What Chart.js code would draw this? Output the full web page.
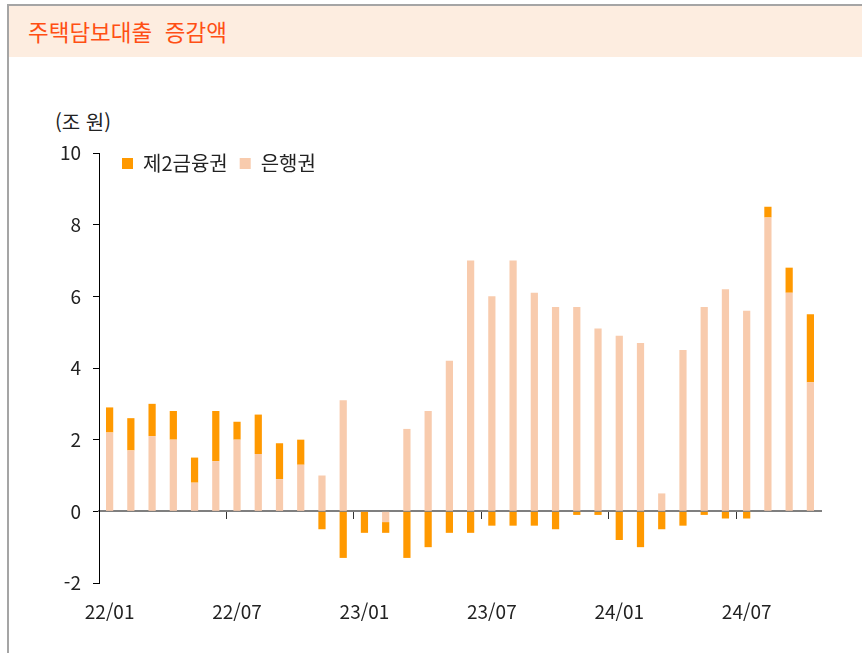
<!DOCTYPE html>
<html lang="ko">
<head>
<meta charset="utf-8">
<title>주택담보대출 증감액</title>
<script src="https://cdn.jsdelivr.net/npm/chart.js@4"></script>
<style>
  body { margin: 0; width: 862px; height: 653px; overflow: hidden; background: #fff;
         font-family: "Noto Sans CJK KR", sans-serif; }
  #frame { position: absolute; left: 7px; top: 4px; right: 0; bottom: 0;
           border-left: 2px solid #a5a5a5; border-top: 2px solid #a5a5a5; }
  #head { height: 51px; background: #fdede0; color: #ff4f14; font-size: 22.5px;
          line-height: 51px; padding-left: 19px; white-space: pre; }
  #unit { position: absolute; left: 55px; top: 109px; font-size: 20px; line-height: 26px; color: #222; }
  #wrap { position: absolute; left: 0; top: 0; width: 862px; height: 653px; }
</style>
</head>
<body>
<div id="frame"><div id="head">주택담보대출  증감액</div></div>
<div id="unit">(조 원)</div>
<div id="wrap"><canvas id="grafico"></canvas></div>
<script>
const meses = ['22/01','22/02','22/03','22/04','22/05','22/06','22/07','22/08','22/09','22/10','22/11','22/12',
               '23/01','23/02','23/03','23/04','23/05','23/06','23/07','23/08','23/09','23/10','23/11','23/12',
               '24/01','24/02','24/03','24/04','24/05','24/06','24/07','24/08','24/09','24/10']
// 은행권 (bottom of the stack)
const banco = [2.2, 1.7, 2.1, 2.0, 0.8, 1.4, 2.0, 1.6, 0.9, 1.3, 1.0, 3.1,
               0, -0.3, 2.3, 2.8, 4.2, 7.0, 6.0, 7.0, 6.1, 5.7, 5.7, 5.1,
               4.9, 4.7, 0.5, 4.5, 5.7, 6.2, 5.6, 8.2, 6.1, 3.6]
// 제2금융권
const segundo = [0.7, 0.9, 0.9, 0.8, 0.7, 1.4, 0.5, 1.1, 1.0, 0.7, -0.5, -1.3,
                 -0.6, -0.3, -1.3, -1.0, -0.6, -0.6, -0.4, -0.4, -0.4, -0.5, -0.1, -0.1,
                 -0.8, -1.0, -0.5, -0.4, -0.1, -0.2, -0.2, 0.3, 0.7, 1.9]
const yTicks = [-2, 0, 2, 4, 6, 8, 10]

Chart.defaults.font.family = '"Noto Sans CJK KR", sans-serif'
Chart.defaults.color = '#222'

// legenda fica dentro da area do grafico, no canto de cima
const moveLegenda = {
  id: 'moveLegenda',
  afterLayout(chart) {
    const lg = chart.legend
    const pad = lg.options.labels.padding
    const w = lg.right - lg.left, h = lg.bottom - lg.top
    lg.left = chart.chartArea.left + 23 - pad
    lg.right = lg.left + w
    lg.top = chart.chartArea.top + 0.5 - pad
    lg.bottom = lg.top + h
  }
}

const ctx = document.getElementById('grafico')
new Chart(ctx, {
  type: 'bar',
  data: {
    labels: meses,
    datasets: [
      { label: '은행권', data: banco, backgroundColor: '#f8cbad', borderWidth: 0,
        categoryPercentage: 1, barPercentage: 0.34 },
      { label: '제2금융권', data: segundo, backgroundColor: '#ff9900', borderWidth: 0,
        categoryPercentage: 1, barPercentage: 0.34 }
    ]
  },
  options: {
    responsive: true,
    maintainAspectRatio: false,
    animation: false,
    layout: { padding: { left: 0, right: 41, top: 111, bottom: 0 } },
    plugins: {
      tooltip: { enabled: false },
      legend: {
        position: 'top', align: 'start', fullSize: false, reverse: true,
        labels: { boxWidth: 11, boxHeight: 11, padding: 12, font: { size: 20 }, color: '#222' }
      }
    },
    scales: {
      x: {
        stacked: true,
        grid: { display: false, drawTicks: false, tickLength: 0 },
        border: { display: false },
        ticks: {
          autoSkip: false, maxRotation: 0, padding: 17, font: { size: 19 }, color: '#222',
          callback: function (v, i) { return i % 6 === 0 ? this.getLabelForValue(v) : '' }
        },
        afterFit: s => { s.height = 70 }
      },
      x0: {
        type: 'category',
        position: { y: 0 },
        offset: true,
        grid: {
          offset: true, drawOnChartArea: false, drawTicks: true, tickLength: 7, lineWidth: 1,
          color: c => (c.index % 6 === 0 ? '#333' : 'rgba(0,0,0,0)')
        },
        border: { color: '#7f7f7f', width: 2 },
        ticks: { display: false, autoSkip: false },
        afterFit: s => { s.height = 0 }
      },
      y: {
        stacked: true,
        min: -2, max: 10,
        afterBuildTicks: s => { s.ticks = yTicks.map(v => ({ value: v })) },
        grid: { drawOnChartArea: false, drawTicks: true, tickLength: 6, color: '#000' },
        border: { color: '#000', width: 1 },
        ticks: { padding: 12, font: { size: 19 }, color: '#222' },
        afterFit: s => { s.width = 99 }
      }
    }
  },
  plugins: [moveLegenda]
})
</script>
</body>
</html>
